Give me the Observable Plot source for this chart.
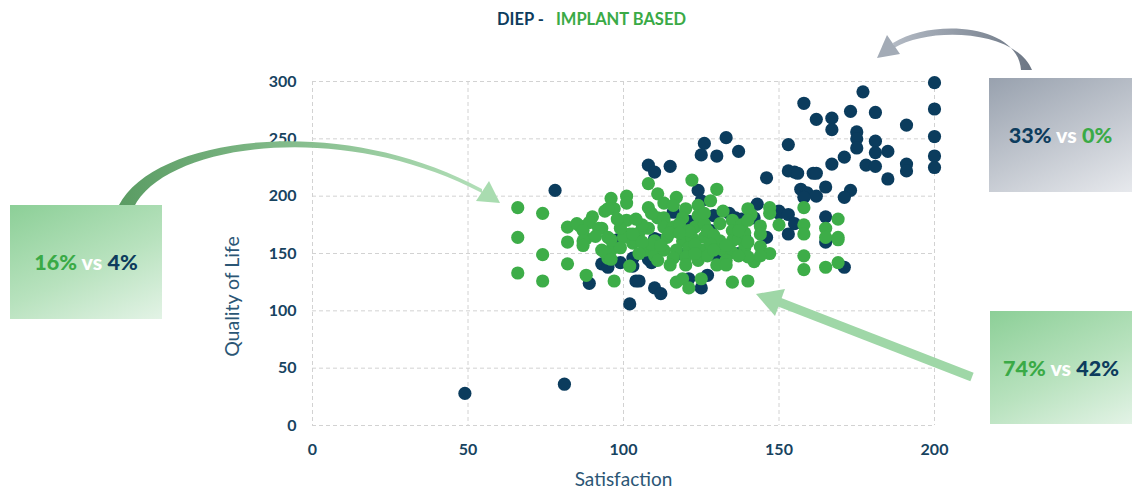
<!DOCTYPE html>
<html>
<head>
<meta charset="utf-8">
<script src="https://cdn.jsdelivr.net/npm/d3@7"></script>
<script src="https://cdn.jsdelivr.net/npm/@observablehq/plot@0.6"></script>
<style>
  body { margin: 0; background: #fff; }
  #wrap { position: relative; width: 1132px; height: 491px; overflow: hidden; font-family: Lato, "Open Sans", sans-serif; }
  #chart { position: absolute; left: 0; top: 0; }
  #overlay { position: absolute; left: 0; top: 0; pointer-events: none; }
  .box { position: absolute; display: flex; align-items: center; justify-content: center;
         font: 900 21.5px Lato, "Open Sans", sans-serif; white-space: pre; }
  .g { color: #3aaa46; } .n { color: #0d3c5d; } .w { color: #ffffff; }
  #title { position: absolute; left: 497px; top: 9px; font: bold 16.5px Lato, "Open Sans", sans-serif; white-space: pre; }
</style>
</head>
<body>
<div id="wrap">
  <div id="chart"></div>
  <svg id="overlay" width="1132" height="491"></svg>
  <div id="title"><span class="n">DIEP - </span>  <span class="g">IMPLANT BASED</span></div>
  <div class="box" id="boxL" style="left:10px;top:205px;width:152px;height:114px;background:linear-gradient(155deg,#8ccf97 0%,#b8e2be 55%,#e3f3e6 100%);"><span class="g">16%</span><span class="w"> vs </span><span class="n">4%</span></div>
  <div class="box" id="boxTR" style="left:989px;top:78px;width:143px;height:114px;background:linear-gradient(155deg,#98a1ae 0%,#c3c8d0 55%,#e7e9ed 100%);"><span class="n">33%</span><span class="w"> vs </span><span class="g">0%</span></div>
  <div class="box" id="boxBR" style="left:990px;top:311px;width:142px;height:113px;background:linear-gradient(155deg,#8ccf97 0%,#b8e2be 55%,#e3f3e6 100%);"><span class="g">74%</span><span class="w"> vs </span><span class="n">42%</span></div>
</div>
<script>
// ---- data (Satisfaction, Quality of Life) ----
const diep = [
  [49,28],[81,36],[78,205],[89,124],[93,141],[95,138],[99,142],[103,146],[103,139],[104,126],
  [102,106],[110,120],[112,115],[108,227],[110,221],[115,226],[126,246],[125,236],[130,235],[133,251],
  [137,239],[124,205],[125,196],[129,183],[116,186],[117,173],[120,172],[121,128],[127,131],[125,120],
  [105,126],[109,142],[108,145],[110,163],[134,185],[146,216],[143,193],[150,187],[136,181],[138,180],
  [142,181],[146,164],[137,150],[155,221],[98,162],[111,162],[121,178],[128,170],[139,164],[118,150],
  [130,148],
  [200,299],[200,276],[200,252],[200,235],[200,225],[177,291],[158,281],[173,274],[181,273],[162,267],
  [167,268],[167,258],[191,262],[175,256],[175,250],[175,242],[153,245],[181,248],[181,238],[185,239],
  [171,234],[167,228],[178,227],[181,226],[191,228],[191,222],[185,215],[153,222],[156,220],[161,220],
  [162,220],[165,208],[157,206],[159,203],[162,200],[158,199],[173,205],[171,199],[150,185],[153,184],
  [155,176],[153,167],[165,182],[165,160],[171,138]
];
const implant = [
  [66,190],[74,185],[66,164],[74,149],[66,133],[74,126],[82,173],[82,160],[82,141],[86,174],
  [88,163],[88,131],[90,182],[93,172],[94,187],[96,198],[97,189],[108,211],[95,189],[101,200],
  [101,194],[89,177],[85,176],[87,170],[92,172],[87,161],[87,157],[95,164],[96,153],[93,153],
  [101,179],[102,167],[100,164],[104,164],[103,159],[105,168],[108,172],[111,202],[111,181],[107,153],
  [110,150],[102,139],[95,146],[97,126],[96,162],[94,151],[96,145],[110,148],[113,194],[113,179],
  [104,161],[103,167],
  [122,214],[130,206],[117,199],[120,189],[124,192],[124,183],[132,187],[135,179],[113,181],[119,181],
  [113,173],[116,173],[123,173],[126,176],[131,176],[135,170],[110,161],[114,164],[119,161],[122,164],
  [126,164],[131,161],[135,161],[113,153],[117,153],[121,155],[125,153],[132,153],[135,151],[111,144],
  [116,146],[120,147],[124,144],[127,148],[133,144],[130,140],[133,140],[117,125],[119,128],[121,120],
  [125,128],[135,125],
  [106,175],[109,158],[115,168],[118,176],[121,170],[127,170],[129,166],[128,158],[123,158],[112,157],
  [106,160],[105,150],[115,140],[120,140],[129,153],[133,157],[137,163],[139,168],[138,175],[108,190],
  [116,192],[128,196],[141,184],[109,185],[104,180],[99,172],[98,180],[91,165],[99,155],[139,155],
  [142,143],[123,150],[118,168],[126,185],
  [140,189],[147,190],[147,185],[150,175],[140,179],[144,174],[144,167],[140,160],[144,156],[147,150],
  [144,148],[140,147],[137,170],[137,148],[140,126],
  [158,190],[158,175],[158,167],[158,148],[158,136],[165,172],[165,164],[169,180],[169,164],[169,162],
  [165,138],[169,142]
];
const xTicks = [0, 50, 100, 150, 200];
const yTicks = [0, 50, 100, 150, 200, 250, 300];
const xLabel = "Satisfaction";
const yLabel = "Quality of Life";

const navy = "#0b3c5d";
const green = "#3dad48";
const tickColor = "#17435f";
const labelColor = "#2b5675";

const chart = Plot.plot({
  width: 1132,
  height: 491,
  marginLeft: 312,
  marginRight: 198,
  marginTop: 81,
  marginBottom: 66,
  x: { domain: [0, 200] },
  y: { domain: [0, 300] },
  style: { fontFamily: "Lato, 'Open Sans', sans-serif", background: "transparent" },
  marks: [
    Plot.gridX(xTicks, { stroke: "#d2d2d2", strokeOpacity: 1, strokeDasharray: "4,3" }),
    Plot.gridY(yTicks, { stroke: "#d2d2d2", strokeOpacity: 1, strokeDasharray: "4,3" }),
    Plot.axisX(xTicks, { tickSize: 0, tickPadding: 18, fontSize: 16, fontWeight: "bold", fill: tickColor, label: null }),
    Plot.axisY(yTicks, { tickSize: 0, tickPadding: 16, fontSize: 16, fontWeight: "bold", fill: tickColor, label: null }),
    Plot.dot(diep, { x: d => d[0], y: d => d[1], r: 6.6, fill: navy }),
    Plot.dot(implant, { x: d => d[0], y: d => d[1], r: 6.6, fill: green }),
    Plot.text([xLabel], { frameAnchor: "bottom", lineAnchor: "middle", textAnchor: "middle", dy: 54, fontSize: 19, fill: labelColor }),
    Plot.text([yLabel], { frameAnchor: "left", lineAnchor: "middle", textAnchor: "middle", rotate: -90, dx: -80, dy: 43, fontSize: 19.5, fill: labelColor })
  ]
});
document.getElementById("chart").appendChild(chart);

// ---- decorative arrows ----
const ov = d3.select("#overlay");
const defs = ov.append("defs");
const gL = defs.append("linearGradient").attr("id", "gL").attr("x1", "0%").attr("x2", "100%").attr("y1", "0%").attr("y2", "0%");
gL.append("stop").attr("offset", "0%").attr("stop-color", "#5a9c63");
gL.append("stop").attr("offset", "100%").attr("stop-color", "#b2dfb8");
const gT = defs.append("linearGradient").attr("id", "gT").attr("x1", "100%").attr("x2", "0%").attr("y1", "0%").attr("y2", "0%");
gT.append("stop").attr("offset", "0%").attr("stop-color", "#6c7684");
gT.append("stop").attr("offset", "100%").attr("stop-color", "#b3bac4");

// left curved arrow (tapered)
ov.append("path").attr("d", "M119,205 C155,136 340,112 482,189 L482,193 C340,118 165,144 134,207 Z")
  .attr("fill", "url(#gL)");
ov.append("polygon").attr("points", "500,203 476,201 489,181").attr("fill", "#a9dcb0");

// top-right curved arrow (tapered)
ov.append("path").attr("d", "M1021,70 C1018,24 932,18 893,43 L894,48 C930,26 1016,30 1032,70 Z")
  .attr("fill", "url(#gT)");
ov.append("polygon").attr("points", "877,58 900,54 887,35").attr("fill", "#a3abb6");

// bottom-right straight arrow
ov.append("line").attr("x1", 972).attr("y1", 377).attr("x2", 779).attr("y2", 302)
  .attr("stroke", "#9fd7a7").attr("stroke-width", 9);
ov.append("polygon").attr("points", "756,294 785,289 775,316").attr("fill", "#9fd7a7");
</script>
</body>
</html>
